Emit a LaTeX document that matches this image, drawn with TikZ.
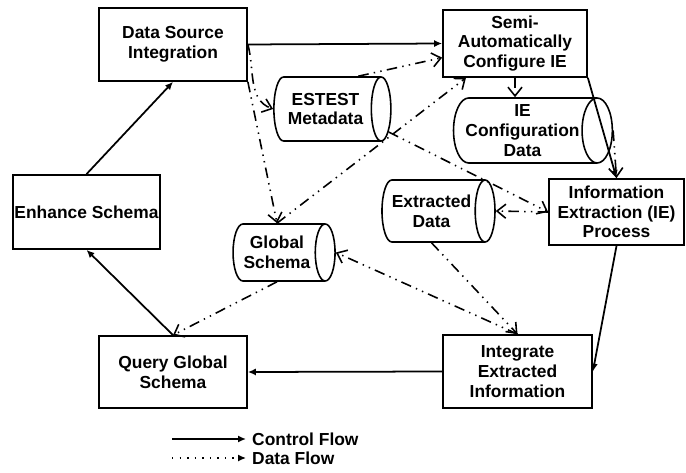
\documentclass[tikz,border=0pt]{standalone}
\usepackage{fontspec}
\setmainfont{Liberation Sans}
\usetikzlibrary{positioning,shapes.geometric,arrows.meta}

\begin{document}
\begin{tikzpicture}[
        process/.style={rectangle, draw, line width=1pt, align=center, inner sep=1pt, font=\fontsize{9.9}{11.2}\selectfont\bfseries},
        store/.style={cylinder, draw, line width=0.9pt, aspect=0.55, align=center, inner sep=1pt, font=\fontsize{9.9}{11.2}\selectfont\bfseries},
        ctrl/.style={line width=1pt, -{Latex[length=4.5pt,width=4pt]}},
        dataflow/.style={line width=0.9pt, dash pattern=on 6pt off 3pt on 0.8pt off 3pt on 0.8pt off 3pt, -{Straight Barb[length=5pt,width=8pt]}},
        legend/.style={font=\fontsize{9.9}{11.2}\selectfont\bfseries, anchor=west}
    ]
    \useasboundingbox (0,0) rectangle (13.72,9.44);

    % Processes
    \node[process, minimum width=2.96cm, minimum height=1.46cm] (dsi) at (3.46, 8.55) {Data Source\\Integration};
    \node[process, minimum width=2.94cm, minimum height=1.48cm] (enh) at (1.73, 5.20) {Enhance Schema};
    \node[process, minimum width=2.96cm, minimum height=1.44cm] (query) at (3.46, 2.00) {Query Global\\Schema};
    \node[process, minimum width=2.98cm, minimum height=1.46cm] (integ) at (10.35, 2.01) {Integrate\\Extracted\\Information};
    \node[process, minimum width=2.70cm, minimum height=1.32cm] (iep) at (12.33, 5.20) {Information\\Extraction (IE)\\Process};
    \node[process, minimum width=2.88cm, minimum height=1.34cm] (semi) at (10.30, 8.57) {Semi-\\Automatically\\Configure IE};

    % Data stores (cylinder sizes are given along its axis)
    \node[store, minimum height=2.34cm, minimum width=1.28cm] (meta) at (6.51, 7.26) {ESTEST\\Metadata};
    \node[store, minimum height=2.98cm, minimum width=1.30cm] (iecfg) at (10.45, 6.83) {IE\\Configuration\\Data};
    \node[store, minimum height=2.26cm, minimum width=1.24cm] (extr) at (8.63, 5.22) {Extracted\\Data};
    \node[store, minimum height=2.04cm, minimum width=1.14cm] (gs) at (5.54, 4.39) {Global\\Schema};

    % Control flow
    \draw[ctrl] (enh.north) -- (dsi.south);
    \draw[ctrl] (dsi.east) -- (semi.west);
    \draw[ctrl] (semi.south east) -- (iep.north);
    \draw[ctrl] (iep.south) -- (integ.east);
    \draw[ctrl] (integ.west) -- (query.east);
    \draw[ctrl] (query.north) -- (enh.south);

    % Data flow
    \draw[dataflow] (dsi.east) to[out=-75, in=160] (meta.west);
    \draw[dataflow] (dsi.south east) -- (gs.north);
    \draw[dataflow] (meta.north east) -- (semi.191);
    \draw[dataflow] (gs.north) -- (semi.215);
    \draw[dataflow] (meta.-20) -- (iep.west);
    \draw[dataflow] (iep.west) -- (extr.east);
    \draw[dataflow] (extr.south) -- (integ.north);
    \draw[dataflow] (integ.north) -- (gs.east);
    \draw[dataflow] (gs.south) -- (query.north);
    \draw[dataflow] (semi.south) -- (semi.south |- iecfg.north);
    \draw[dataflow] (iecfg.east) -- (iep.north);

    % Legend
    \coordinate (cfstart) at (3.44, 0.66);
    \coordinate (dfstart) at (3.44, 0.28);
    \node[legend] (cflab) at (4.92, 0.66) {Control Flow};
    \node[legend] (dflab) at (4.92, 0.28) {Data Flow};
    \draw[line width=1pt, -{Latex[length=4.5pt,width=4pt]}] (cfstart) -- (cflab.west);
    \draw[line width=0.8pt, dash pattern=on 0.8pt off 3.5pt, -{Latex[length=4.5pt,width=4pt]}] (dfstart) -- (dflab.west);
\end{tikzpicture}
\end{document}
